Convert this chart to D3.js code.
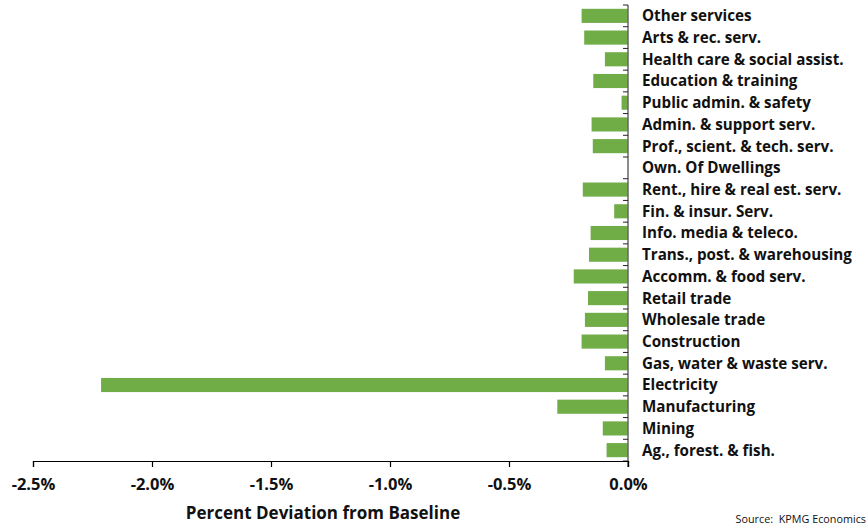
<!DOCTYPE html>
<html><head><meta charset="utf-8">
<script src="https://cdnjs.cloudflare.com/ajax/libs/d3/7.8.5/d3.min.js"></script>
<style>body{margin:0;background:#fff;}svg{display:block;}</style>
</head><body>
<svg id="c" width="866" height="525"></svg>
<script>
const categories = ["Other services","Arts & rec. serv.","Health care & social assist.","Education & training","Public admin. & safety","Admin. & support serv.","Prof., scient. & tech. serv.","Own. Of Dwellings","Rent., hire & real est. serv.","Fin. & insur. Serv.","Info. media & teleco.","Trans., post. & warehousing","Accomm. & food serv.","Retail trade","Wholesale trade","Construction","Gas, water & waste serv.","Electricity","Manufacturing","Mining","Ag., forest. & fish."];
const values = [-0.195,-0.184,-0.097,-0.146,-0.027,-0.153,-0.148,0,-0.19,-0.058,-0.157,-0.164,-0.228,-0.168,-0.181,-0.195,-0.097,-2.214,-0.297,-0.106,-0.09];
const xTicks = [-2.5,-2.0,-1.5,-1.0,-0.5,0.0];
const xTitle = "Percent Deviation from Baseline";
const source = "Source:\u00a0 KPMG Economics";

const svg = d3.select("#c");
const x = d3.scaleLinear().domain([-2.5,0]).range([33,628]);
const y = d3.scaleBand().domain(categories).range([5,461]).paddingInner(0.35).paddingOuter(0.175);
const font = "'Open Sans', 'Liberation Sans', Arial, sans-serif";

svg.append("g").selectAll("rect").data(categories).join("rect")
  .attr("x", (d,i)=>x(values[i]))
  .attr("y", d=>y(d))
  .attr("width", (d,i)=>x(0)-x(values[i]))
  .attr("height", y.bandwidth())
  .attr("fill", "#70ad47");

const step = y.step();
const bounds = d3.range(categories.length+1).map(i=>5+i*step);
svg.append("line").attr("x1",628).attr("x2",628).attr("y1",5).attr("y2",467).attr("stroke","#666").attr("stroke-width",1.5);
svg.append("g").selectAll("line").data(bounds).join("line")
  .attr("x1",623).attr("x2",628).attr("y1",d=>d).attr("y2",d=>d).attr("stroke","#222").attr("stroke-width",1);

svg.append("g").selectAll("text").data(categories).join("text")
  .attr("x",642).attr("y",d=>y(d)+y.bandwidth()/2)
  .attr("dy","0.36em")
  .attr("font-family",font).attr("font-weight","bold").attr("font-size",15.2).attr("fill","#111")
  .text(d=>d);

const xa = d3.axisBottom(x).tickValues(xTicks).tickSize(6).tickFormat(d=>d3.format(".1f")(d).replace("\u2212","-")+"%");
const gx = svg.append("g").attr("transform","translate(0,461)").call(xa);
gx.select(".domain").attr("stroke","#000").attr("stroke-width",1.2);
gx.selectAll(".tick line").attr("stroke","#000").attr("stroke-width",1.2);
gx.selectAll(".tick text").attr("font-family",font).attr("font-weight","bold").attr("font-size",16.5).attr("fill","#111").attr("y",17);

svg.append("text").attr("x",323).attr("y",519).attr("text-anchor","middle")
  .attr("font-family",font).attr("font-weight","bold").attr("font-size",17).attr("fill","#111").text(xTitle);
svg.append("text").attr("x",866).attr("y",523).attr("text-anchor","end")
  .attr("font-family",font).attr("font-size",10.8).attr("fill","#111").text(source);
</script>
</body></html>
